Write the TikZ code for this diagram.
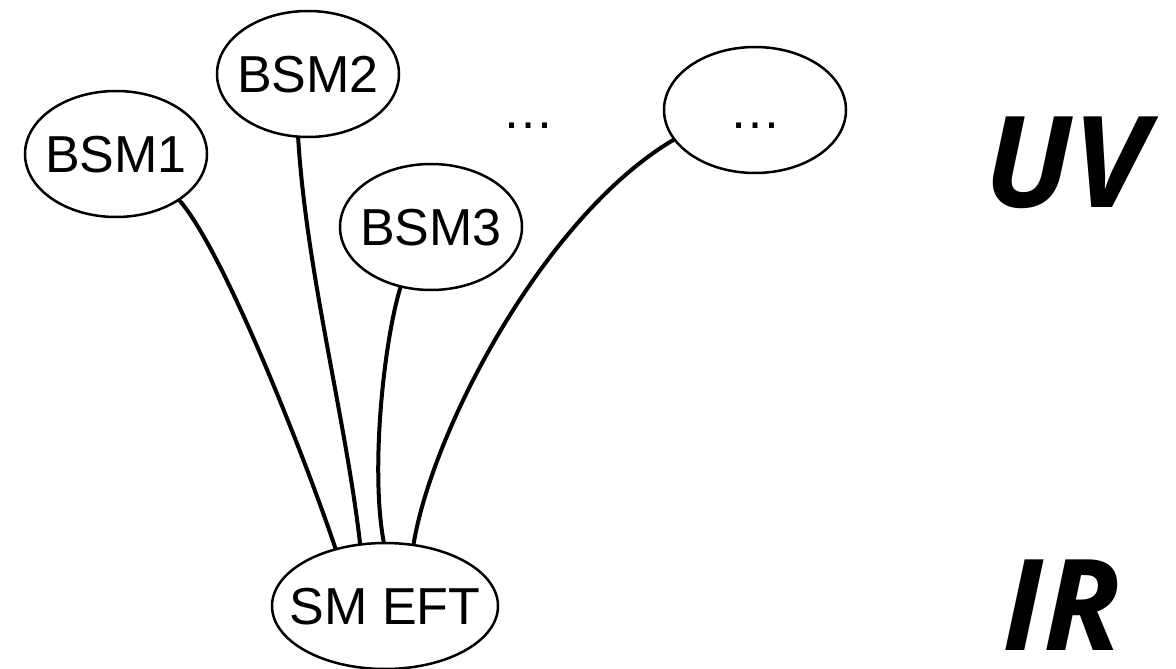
\documentclass[tikz,border=0pt]{standalone}
\usepackage{fontspec}
\setmainfont{Liberation Sans}
\newfontfamily\scalefont{Open Sans}
\usetikzlibrary{shapes.geometric}
\begin{document}
\begin{tikzpicture}[x=1pt,y=-1pt,
  bubble/.style={ellipse, draw, line width=2.5pt, minimum width=182pt, minimum height=126pt,
    inner sep=0pt, outer sep=0pt, font=\fontsize{52}{52}\selectfont, text height=37pt, text depth=0pt},
  widebubble/.style={bubble, minimum width=226pt},
  plain/.style={inner sep=0pt, outer sep=0pt, font=\fontsize{52}{52}\selectfont, text height=37pt, text depth=0pt},
  conn/.style={line width=4pt},
  scalelabel/.style={inner sep=0pt, outer sep=0pt, font=\scalefont\bfseries\itshape\fontsize{127}{127}\selectfont, text height=91pt, text depth=0pt}]
\useasboundingbox (0,0) rectangle (1176,669);
\node[bubble] (b1) at (116,154) {\makebox[0pt]{BSM1}};
\node[bubble] (b2) at (308,74) {\makebox[0pt]{BSM2}};
\node[bubble] (b3) at (431,227) {\makebox[0pt]{BSM3}};
\node[bubble] (bd) at (755,110) {\makebox[0pt]{…}};
\node[plain] (fd) at (528,110) {…};
\node[widebubble] (eft) at (385,606) {\makebox[0pt]{SM EFT}};
\node[scalelabel] (uv) at (1066,162) {UV};
\node[scalelabel] (ir) at (1062,605) {IR};
\draw[conn] (b1.-36) .. controls (227,254) and (314,483) .. (eft.131);
\draw[conn] (b2.-99) .. controls (306,270) and (346,420) .. (eft.112);
\draw[conn] (b3.-117) .. controls (384,340) and (370,470) .. (eft.91);
\draw[conn] (bd.-160) .. controls (545,215) and (432,430) .. (eft.65);
\end{tikzpicture}
\end{document}
